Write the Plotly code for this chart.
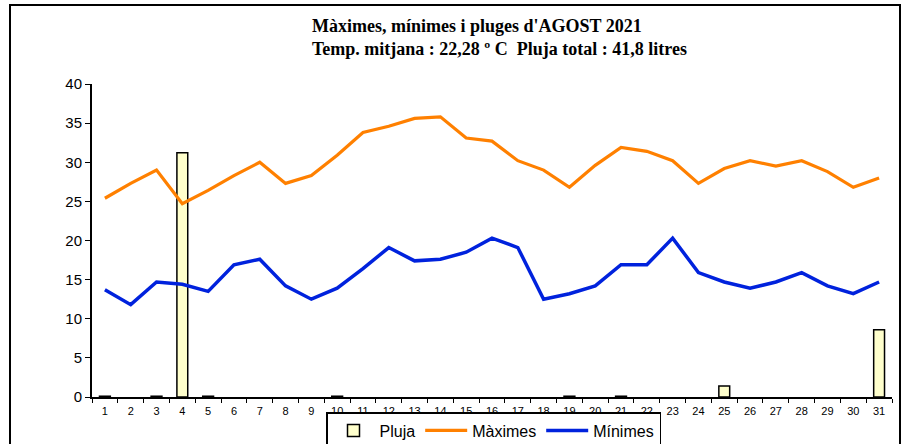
import plotly.graph_objects as go

days = [str(d) for d in range(1, 32)]
maximes = [25.4, 27.3, 29.0, 24.7, 26.4, 28.3, 30.0, 27.3, 28.3, 30.9,
           33.8, 34.6, 35.6, 35.8, 33.1, 32.7, 30.2, 29.0, 26.8, 29.6,
           31.9, 31.4, 30.2, 27.3, 29.2, 30.2, 29.5, 30.2, 28.8, 26.8, 28.0]
minimes = [13.7, 11.8, 14.7, 14.4, 13.5, 16.9, 17.6, 14.2, 12.5, 13.9,
           16.4, 19.1, 17.4, 17.6, 18.5, 20.3, 19.1, 12.5, 13.2, 14.2,
           16.9, 16.9, 20.3, 15.9, 14.7, 13.9, 14.7, 15.9, 14.2, 13.2, 14.7]
pluja = [0.1, 0, 0.1, 31.2, 0.1, 0, 0, 0, 0, 0.1,
         0, 0, 0, 0, 0, 0, 0, 0, 0.1, 0,
         0.1, 0, 0, 0, 1.4, 0, 0, 0, 0, 0, 8.6]
y_ticks = [0, 5, 10, 15, 20, 25, 30, 35, 40]

title1 = "Màximes, mínimes i pluges d'AGOST 2021"
title2 = "Temp. mitjana : 22,28 º C  Pluja total : 41,8 litres"

pluja_bars = [v if v > 0 else None for v in pluja]

fig = go.Figure()
fig.add_trace(go.Bar(x=days, y=pluja_bars, name="Pluja", width=0.42,
                     marker=dict(color="#FFFFCC", line=dict(color="black", width=1.5))))
fig.add_trace(go.Scatter(x=days, y=maximes, name="Màximes", mode="lines",
                         line=dict(color="#FF8000", width=3.2)))
fig.add_trace(go.Scatter(x=days, y=minimes, name="Mínimes", mode="lines",
                         line=dict(color="#0022DD", width=3.5)))

fig.update_layout(
    width=906, height=444,
    margin=dict(l=92, r=14, t=84, b=47, autoexpand=False),
    paper_bgcolor="white", plot_bgcolor="white",
    font=dict(family="Liberation Sans, Arial", color="black"),
    showlegend=True,
    legend=dict(orientation="h", x=(326 - 92) / 800, y=(397 - 412) / 313,
                xanchor="left", yanchor="top",
                bordercolor="black", borderwidth=1.5, bgcolor="white",
                font=dict(size=16, family="Liberation Sans, Arial"),
                traceorder="normal", itemwidth=42),
    xaxis=dict(type="category", tickson="boundaries", ticks="outside", ticklen=4,
               tickwidth=1.2, tickcolor="black", showline=True, linecolor="black",
               linewidth=1.5, showgrid=False, tickfont=dict(size=11),
               ticklabelstandoff=3, range=[-0.5, 30.5]),
    yaxis=dict(range=[0, 40], tickvals=y_ticks, ticks="outside", ticklen=5,
               tickwidth=1.2, tickcolor="black", showline=True, linecolor="black",
               linewidth=2, showgrid=False, zeroline=False, tickfont=dict(size=15)),
    bargap=0.5,
)

fig.add_annotation(xref="paper", yref="paper", x=(310 - 92) / 800, y=1 + (84 - 26) / 313,
                   xanchor="left", yanchor="middle", showarrow=False, text="<b>" + title1 + "</b>",
                   font=dict(family="Liberation Serif, Times New Roman", size=18))
fig.add_annotation(xref="paper", yref="paper", x=(310 - 92) / 800, y=1 + (84 - 49) / 313,
                   xanchor="left", yanchor="middle", showarrow=False, text="<b>" + title2 + "</b>",
                   font=dict(family="Liberation Serif, Times New Roman", size=18))

fig.add_shape(type="rect", xref="paper", yref="paper",
              x0=(10 - 92) / 800, x1=(900 - 92) / 800,
              y0=(397 - 460) / 313, y1=1 + (84 - 5) / 313,
              line=dict(color="black", width=2), layer="below")

fig.write_html("out.html", config={"displayModeBar": False},
               post_script="document.body.style.margin='0';document.body.style.overflow='hidden';")
